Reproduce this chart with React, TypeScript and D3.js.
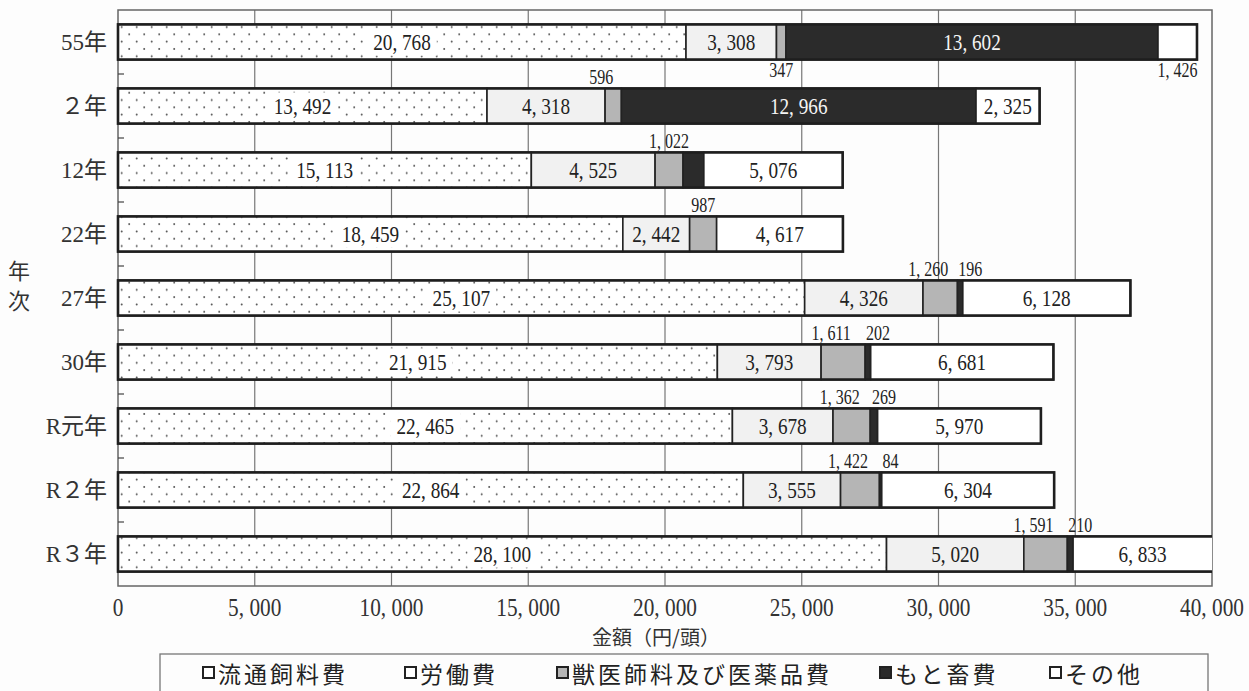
import React from "react";
import * as d3 from "d3";

const categories = ["55年", "２年", "12年", "22年", "27年", "30年", "R元年", "R２年", "R３年"];
const feed = [20768, 13492, 15113, 18459, 25107, 21915, 22465, 22864, 28100];
const labor = [3308, 4318, 4525, 2442, 4326, 3793, 3678, 3555, 5020];
const vet = [347, 596, 1022, 987, 1260, 1611, 1362, 1422, 1591];
const stock = [13602, 12966, 760, 0, 196, 202, 269, 84, 210];
const other = [1426, 2325, 5076, 4617, 6128, 6681, 5970, 6304, 6833];
const seriesNames = ["流通飼料費", "労働費", "獣医師料及び医薬品費", "もと畜費", "その他"];
const xTicks = [0, 5000, 10000, 15000, 20000, 25000, 30000, 35000, 40000];
const hiddenLabels = ["12年|3", "22年|3"];
const belowRows = ["55年"];

const W = 1249, H = 691;
const L = 118, R = 1212, T = 10, B = 586;

const fills = ["url(#dots)", "#f1f1f1", "#b5b5b5", "#2b2b2b", "#ffffff"];
const NUM = "'Liberation Serif', 'DejaVu Serif', serif";
const JP = "'Noto Sans CJK JP', 'Noto Sans', sans-serif";
const MIX = "'Liberation Serif', 'Noto Sans CJK JP', serif";

const fmt = (v: number) => d3.format(",")(v).replace(",", ", ");

function Num({ x, y, text, size, anchor = "middle", fill = "#222", sx = 0.8 }: any) {
  return (
    <text
      transform={`translate(${x},${y}) scale(${sx},1)`}
      textAnchor={anchor}
      fontFamily={NUM}
      fontSize={size}
      fill={fill}
    >
      {text}
    </text>
  );
}

export default function App() {
  const x = d3.scaleLinear().domain([0, 40000]).range([L, R]);
  const y = d3.scaleBand<string>().domain(categories).range([T, B]).paddingInner(0.45).paddingOuter(0.225);
  const step = y.step();
  const bw = y.bandwidth();
  const values = [feed, labor, vet, stock, other];
  const rows = categories.map((c, i) => {
    const vals = values.map((s) => s[i]);
    let acc = 0;
    const segs = vals.map((v, k) => {
      const s = { k, v, x0: acc, x1: acc + v };
      acc += v;
      return s;
    });
    return { c, i, segs, total: acc };
  });
  const labelW = (t: string, size: number) => {
    let w = 0;
    for (const ch of t) w += ch === "," || ch === " " ? 0.25 : 0.5;
    return w * size * 0.8;
  };

  return (
    <svg width={W} height={H} style={{ position: "absolute", left: 0, top: 0, background: "#fdfdfd" }}>
      <defs>
        <pattern id="dots" width={15} height={14.6} patternUnits="userSpaceOnUse" x={L} y={T}>
          <rect width={15} height={14.6} fill="#ffffff" />
          <circle cx={3.7} cy={2.5} r={1} fill="#555" />
          <circle cx={11.2} cy={9.8} r={1} fill="#555" />
        </pattern>
        <clipPath id="plotclip">
          <rect x={L - 3} y={T} width={R - L + 3} height={B - T} />
        </clipPath>
      </defs>
      <rect x={0} y={0} width={W} height={H} fill="#fdfdfd" />

      {/* gridlines */}
      {xTicks.slice(1, -1).map((t) => (
        <line key={t} x1={x(t)} x2={x(t)} y1={T} y2={B} stroke="#777" strokeWidth={1.2} />
      ))}
      <rect x={L} y={T} width={R - L} height={B - T} fill="none" stroke="#666" strokeWidth={1.5} />

      {/* category ticks */}
      {categories.slice(1).map((c) => {
        const yy = (y(c) as number) - step * 0.225;
        return <line key={c} x1={L} x2={L + 6} y1={yy} y2={yy} stroke="#444" strokeWidth={1.2} />;
      })}

      {/* bars */}
      <g clipPath="url(#plotclip)">
        {rows.map((r) => {
          const yy = y(r.c) as number;
          return (
            <g key={r.c}>
              {r.segs
                .filter((s) => s.v > 0)
                .map((s) => (
                  <rect
                    key={s.k}
                    x={x(s.x0)}
                    y={yy}
                    width={x(s.x1) - x(s.x0)}
                    height={bw}
                    fill={fills[s.k]}
                    stroke="#222"
                    strokeWidth={1.6}
                  />
                ))}
              <rect x={L} y={yy} width={x(r.total) - L} height={bw} fill="none" stroke="#1e1e1e" strokeWidth={2.6} />
            </g>
          );
        })}
      </g>

      {/* value labels */}
      {rows.map((r) => {
        const yy = y(r.c) as number;
        const below = belowRows.includes(r.c);
        const hasStockLabel = r.segs[3].v > 0 && !hiddenLabels.includes(`${r.c}|3`);
        return (
          <g key={r.c}>
            {r.segs.map((s) => {
              if (s.v <= 0 || hiddenLabels.includes(`${r.c}|${s.k}`)) return null;
              const t = fmt(s.v);
              const x0 = x(s.x0);
              const x1 = Math.min(x(s.x1), R);
              const cx = (x0 + x1) / 2;
              const segW = x1 - x0;
              const inW = labelW(t, 24);
              if (segW > inW + 6) {
                const fill = s.k === 3 ? "#f4f4f4" : "#222";
                return (
                  <g key={s.k}>
                    {s.k === 0 && (
                      <rect x={cx - inW / 2 - 6} y={yy + 4} width={inW + 12} height={bw - 8} fill="#fff" />
                    )}
                    <Num x={cx} y={yy + bw / 2 + 8} text={t} size={24} fill={fill} />
                  </g>
                );
              }
              let dx = 0;
              if (!below && s.k === 2 && hasStockLabel) dx = -12;
              if (!below && s.k === 3) dx = 10;
              const ly = below ? yy + bw + 17 : yy - 4;
              return <Num key={s.k} x={cx + dx} y={ly} text={t} size={20} />;
            })}
          </g>
        );
      })}

      {/* y labels */}
      {categories.map((c) => (
        <text
          key={c}
          x={107}
          y={(y(c) as number) + bw / 2 + 8}
          textAnchor="end"
          fontFamily={MIX}
          fontSize={23}
          fill="#333"
        >
          {c}
        </text>
      ))}
      <text x={19} y={279} textAnchor="middle" fontFamily={JP} fontSize={22} fill="#333">年</text>
      <text x={19} y={309} textAnchor="middle" fontFamily={JP} fontSize={22} fill="#333">次</text>

      {/* x tick labels */}
      {xTicks.map((t) => (
        <Num key={t} x={x(t)} y={616} text={fmt(t)} size={26} sx={0.82} fill="#333" />
      ))}
      <text x={656} y={645} textAnchor="middle" fontFamily={JP} fontSize={20} fill="#333">
        金額（円/頭）
      </text>

      {/* legend */}
      <rect x={160} y={654} width={1048} height={50} fill="none" stroke="#777" strokeWidth={1.3} />
      {seriesNames.map((n, k) => {
        const lx = [203, 405, 557, 880, 1050][k];
        const sym = ["#fff", "#fff", "#b5b5b5", "#2b2b2b", "#fff"][k];
        return (
          <g key={n}>
            <rect x={lx} y={667} width={11} height={11} fill={sym} stroke="#222" strokeWidth={2} />
            <text x={lx + 15} y={683} fontFamily={JP} fontSize={23} letterSpacing={3} fill="#222">
              {n}
            </text>
          </g>
        );
      })}
    </svg>
  );
}
